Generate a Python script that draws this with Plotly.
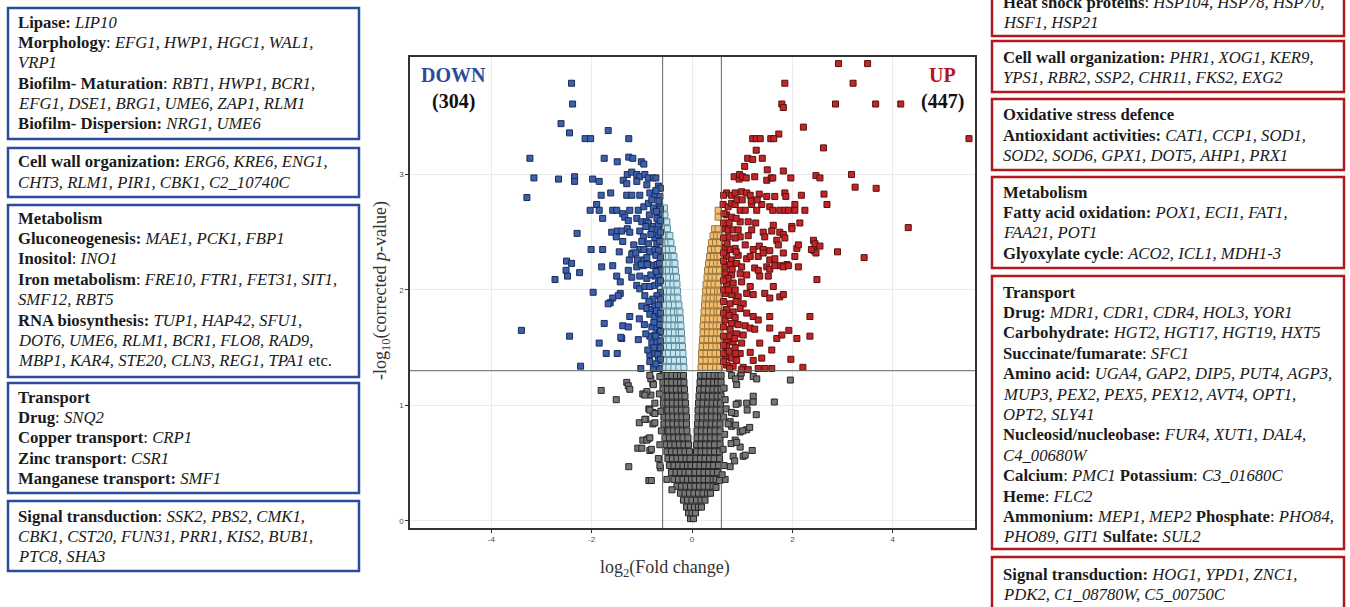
import plotly.graph_objects as go

# ---------------- data ----------------
fc_threshold = 0.585      # log2(1.5)
p_threshold = 1.301       # -log10(0.05)

x_ticks = [-4, -2, 0, 2, 4]
x_tick_labels = ["-4", "-2", "0", "2", "4"]
y_ticks = [0, 1, 2, 3]
y_tick_labels = ["0", "1", "2", "3"]

n_down = 304
n_up = 447

# non-significant genes (grey) - dense cone, listed row by row
grey_row_y = [0.02, 0.07, 0.12, 0.18, 0.24, 0.30, 0.36, 0.42, 0.48, 0.54, 0.60, 0.66, 0.72,
              0.78, 0.84, 0.90, 0.96, 1.02, 1.08, 1.14, 1.20, 1.26]
grey_row_x = [
    [-0.03, 0.03],
    [-0.07, 0.0, 0.07],
    [-0.11, -0.03, 0.05, 0.13, 0.19],
    [-0.17, -0.09, 0.0, 0.09, 0.18, 0.26],
    [-0.23, -0.14, -0.05, 0.04, 0.13, 0.22, 0.31, 0.37],
    [-0.30, -0.21, -0.12, -0.03, 0.06, 0.15, 0.24, 0.33, 0.42],
    [-0.36, -0.27, -0.18, -0.09, -0.01, 0.06, 0.15, 0.24, 0.33, 0.42, 0.48],
    [-0.41, -0.32, -0.23, -0.14, -0.06, 0.06, 0.15, 0.24, 0.33, 0.42, 0.51],
    [-0.45, -0.36, -0.27, -0.18, -0.09, -0.02, 0.07, 0.16, 0.25, 0.34, 0.43, 0.53],
    [-0.48, -0.39, -0.30, -0.21, -0.12, -0.04, 0.08, 0.17, 0.26, 0.35, 0.44, 0.55],
    [-0.50, -0.41, -0.32, -0.23, -0.14, -0.05, 0.09, 0.18, 0.27, 0.36, 0.45, 0.55],
    [-0.52, -0.43, -0.34, -0.25, -0.16, -0.07, 0.09, 0.18, 0.27, 0.36, 0.45, 0.56],
    [-0.54, -0.45, -0.36, -0.27, -0.18, -0.08, 0.10, 0.19, 0.28, 0.37, 0.46, 0.56],
    [-0.55, -0.46, -0.37, -0.28, -0.19, -0.10, 0.10, 0.19, 0.28, 0.37, 0.46, 0.56],
    [-0.56, -0.47, -0.38, -0.29, -0.20, -0.11, 0.11, 0.20, 0.29, 0.38, 0.47, 0.56],
    [-0.56, -0.47, -0.38, -0.29, -0.20, -0.11, 0.12, 0.21, 0.30, 0.39, 0.48, 0.57],
    [-0.57, -0.48, -0.39, -0.30, -0.21, -0.12, 0.12, 0.21, 0.30, 0.39, 0.48, 0.57],
    [-0.57, -0.48, -0.39, -0.30, -0.21, -0.13, 0.13, 0.22, 0.31, 0.40, 0.49, 0.57],
    [-0.57, -0.48, -0.39, -0.30, -0.21, -0.14, 0.14, 0.23, 0.32, 0.41, 0.50, 0.58],
    [-0.58, -0.49, -0.40, -0.31, -0.22, -0.15, 0.15, 0.24, 0.33, 0.42, 0.50, 0.58],
    [-0.58, -0.49, -0.40, -0.31, -0.23, -0.16, 0.16, 0.25, 0.34, 0.43, 0.51, 0.58],
    [-0.58, -0.49, -0.40, -0.31, -0.23, -0.17, 0.17, 0.26, 0.35, 0.44, 0.52, 0.58],
]
# non-significant genes scattered outside the cone
grey_scatter = [
    (-1.30, 1.20), (-1.27, 1.17), (-1.24, 1.14), (-1.81, 1.13), (-1.51, 1.05), (-1.05, 0.85),
    (-0.92, 0.88), (-0.78, 0.84), (-1.08, 0.63), (-0.84, 0.61), (-1.26, 0.47), (-0.86, 0.35),
    (-0.98, 0.70), (-0.88, 0.71), (-0.86, 0.97), (-0.78, 0.94), (-0.82, 1.09), (-0.98, 1.10),
    (-0.90, 1.12), (-0.78, 1.19), (-0.82, 1.23), (-0.63, 0.46), (-0.67, 0.54), (-0.61, 0.78),
    (-0.84, 1.26), (-0.77, 1.18), (-0.94, 1.09), (-0.74, 1.02), (-0.84, 0.96), (-0.74, 0.93),
    (-0.94, 0.88), (-0.74, 0.85), (-0.90, 0.70), (-0.84, 0.72), (-1.00, 0.63), (-0.81, 0.62),
    (-0.64, 0.48), (-0.81, 0.35), (-0.64, 1.25), (-0.65, 1.10), (-0.62, 0.95), (-0.64, 0.66),
    (-0.50, 0.36), (-0.40, 0.27),
    (0.79, 1.26), (0.89, 1.18), (0.96, 1.25), (1.09, 1.02), (0.92, 1.02), (0.86, 0.93),
    (0.76, 0.86), (0.96, 0.77), (1.09, 0.79), (0.79, 0.82), (0.86, 0.70), (0.96, 0.64),
    (0.82, 0.56), (1.02, 0.56), (0.76, 0.47), (0.66, 0.36), (0.98, 1.28), (0.87, 1.23),
    (1.22, 1.25), (1.29, 1.23), (1.96, 1.22), (1.64, 1.03), (1.22, 1.08), (1.22, 1.03),
    (0.88, 1.01), (1.10, 0.96), (1.28, 0.92), (0.68, 0.97), (0.79, 0.94), (0.87, 0.83),
    (1.01, 0.78), (1.15, 0.81), (0.72, 0.84), (0.78, 0.67), (0.89, 0.68), (1.20, 0.61),
    (1.06, 0.57), (0.85, 0.52), (0.64, 0.48), (0.62, 0.62), (0.48, 0.29), (0.64, 1.15),
    (0.66, 1.05), (0.63, 0.90), (0.65, 0.75), (0.60, 0.40), (0.55, 0.35),
]

# significant, |log2FC| below threshold, down (light blue)
lightblue_row_y = [1.33, 1.39, 1.45, 1.51, 1.57, 1.63, 1.69, 1.75, 1.81, 1.87, 1.93, 1.99, 2.05,
                   2.11, 2.17, 2.23, 2.29, 2.35, 2.41, 2.47, 2.53, 2.59, 2.65, 2.71]
lightblue_row_x = [
    [-0.56, -0.46, -0.36, -0.26, -0.16], [-0.55, -0.45, -0.35, -0.25, -0.17],
    [-0.56, -0.47, -0.37, -0.27, -0.18], [-0.55, -0.45, -0.35, -0.26, -0.19],
    [-0.56, -0.46, -0.36, -0.27, -0.20], [-0.55, -0.45, -0.35, -0.26, -0.21],
    [-0.56, -0.46, -0.36, -0.28, -0.22], [-0.55, -0.45, -0.36, -0.27, -0.23],
    [-0.56, -0.46, -0.37, -0.29, -0.24], [-0.55, -0.45, -0.35, -0.26],
    [-0.56, -0.46, -0.37, -0.28], [-0.55, -0.45, -0.36, -0.29],
    [-0.56, -0.47, -0.38, -0.30], [-0.55, -0.46, -0.37, -0.31],
    [-0.56, -0.47, -0.39, -0.33], [-0.55, -0.46, -0.38, -0.34],
    [-0.56, -0.47, -0.40, -0.36], [-0.55, -0.47, -0.39],
    [-0.56, -0.48, -0.42], [-0.55, -0.47, -0.44],
    [-0.56, -0.49], [-0.55, -0.50], [-0.54], [-0.55],
]

# significant, |log2FC| below threshold, up (orange)
orange_row_y = [1.33, 1.39, 1.45, 1.51, 1.57, 1.63, 1.69, 1.75, 1.81, 1.87, 1.93, 1.99, 2.05,
                2.11, 2.17, 2.23, 2.29, 2.35, 2.41, 2.47, 2.53, 2.63, 2.69]
orange_row_x = [
    [0.18, 0.27, 0.37, 0.47, 0.55], [0.19, 0.28, 0.38, 0.48, 0.56],
    [0.19, 0.28, 0.37, 0.46, 0.55], [0.20, 0.29, 0.39, 0.48, 0.56],
    [0.21, 0.30, 0.39, 0.47, 0.55], [0.22, 0.31, 0.40, 0.49, 0.56],
    [0.22, 0.31, 0.40, 0.48, 0.55], [0.23, 0.32, 0.41, 0.49, 0.56],
    [0.24, 0.33, 0.42, 0.50, 0.55], [0.25, 0.33, 0.41, 0.49, 0.56],
    [0.26, 0.34, 0.42, 0.50, 0.55], [0.27, 0.35, 0.43, 0.51, 0.56],
    [0.28, 0.36, 0.44, 0.52], [0.30, 0.38, 0.46, 0.54],
    [0.31, 0.39, 0.47, 0.55], [0.33, 0.41, 0.49, 0.56],
    [0.35, 0.43, 0.50, 0.56], [0.37, 0.45, 0.52],
    [0.39, 0.47, 0.55], [0.42, 0.49, 0.56],
    [0.45, 0.52], [0.52], [0.52],
]

# down-regulated genes (blue)
down_genes = [
    (-2.40, 3.79), (-2.38, 3.61), (-2.61, 3.44), (-2.44, 3.36), (-1.67, 3.38), (-2.13, 3.31),
    (-2.02, 3.31), (-1.26, 3.31), (-3.23, 3.14), (-3.15, 2.97), (-3.29, 2.80), (-1.75, 3.14),
    (-1.49, 3.11), (-1.26, 3.15), (-1.18, 3.14), (-1.01, 3.11), (-2.29, 2.49), (-2.73, 2.09),
    (-3.40, 1.65), (-2.44, 1.60), (-2.22, 1.34), (-2.66, 2.96), (-2.34, 2.98), (-2.34, 2.94),
    (-1.98, 2.96), (-1.85, 2.94), (-0.96, 3.09),
    (-1.37, 2.95), (-1.29, 3.00), (-1.20, 3.02), (-1.10, 3.00), (-1.04, 2.98), (-0.94, 3.00),
    (-0.87, 2.97), (-0.77, 2.97), (-0.72, 2.97), (-1.30, 2.92), (-1.10, 2.94), (-0.90, 2.91),
    (-0.67, 2.90), (-1.81, 2.82), (-1.62, 2.84), (-1.30, 2.82), (-1.20, 2.82), (-1.04, 2.82),
    (-0.84, 2.84), (-0.74, 2.82), (-0.64, 2.81), (-1.90, 2.74), (-2.03, 2.69), (-1.85, 2.69),
    (-1.58, 2.69), (-1.50, 2.69), (-1.38, 2.66), (-1.24, 2.69), (-1.07, 2.69), (-0.96, 2.72),
    (-0.87, 2.75), (-0.77, 2.71), (-0.65, 2.74), (-0.64, 2.66), (-1.78, 2.62), (-1.34, 2.63),
    (-1.27, 2.60), (-1.10, 2.62), (-1.00, 2.59), (-0.91, 2.59), (-0.87, 2.58), (-0.77, 2.55),
    (-0.70, 2.62), (-0.67, 2.56), (-1.60, 2.50), (-1.49, 2.51), (-1.40, 2.51), (-1.29, 2.53),
    (-1.24, 2.50), (-1.04, 2.51), (-0.97, 2.46), (-0.80, 2.52), (-0.74, 2.45), (-0.67, 2.48),
    (-1.51, 2.46), (-1.38, 2.42), (-1.16, 2.39), (-1.00, 2.42), (-0.87, 2.40), (-0.70, 2.40),
    (-0.64, 2.42), (-2.01, 2.35), (-1.78, 2.35), (-1.45, 2.33), (-1.18, 2.32), (-1.04, 2.35),
    (-0.96, 2.35), (-0.84, 2.33), (-0.74, 2.35), (-0.67, 2.34), (-2.50, 2.25), (-2.40, 2.23),
    (-2.51, 2.17), (-2.48, 2.12), (-2.24, 2.15), (-1.80, 2.20), (-1.58, 2.21), (-1.25, 2.26),
    (-1.09, 2.26), (-0.96, 2.26), (-1.10, 2.20), (-0.97, 2.21), (-0.87, 2.22), (-0.77, 2.21),
    (-0.70, 2.22), (-0.65, 2.23), (-1.27, 2.17), (-1.20, 2.11), (-1.04, 2.12), (-0.90, 2.10),
    (-0.74, 2.12), (-0.67, 2.13), (-1.50, 2.12), (-1.43, 2.07), (-1.10, 2.04), (-1.04, 2.01),
    (-0.94, 2.03), (-0.84, 2.03), (-0.74, 2.04), (-0.67, 2.06), (-1.97, 1.98), (-1.43, 1.97),
    (-1.47, 1.95), (-1.58, 1.93), (-1.63, 1.89), (-1.67, 1.88), (-1.00, 1.86), (-0.90, 1.84),
    (-0.80, 1.83), (-0.74, 1.86), (-0.67, 1.87), (-0.84, 1.79), (-0.74, 1.77), (-0.67, 1.80),
    (-0.64, 1.74), (-1.24, 1.77), (-1.05, 1.75), (-1.75, 1.71), (-1.38, 1.69), (-1.27, 1.68),
    (-0.80, 1.68), (-0.70, 1.67), (-0.65, 1.70), (-1.40, 1.58), (-1.07, 1.57), (-0.84, 1.60),
    (-0.74, 1.61), (-0.65, 1.63), (-0.80, 1.54), (-0.70, 1.55), (-1.85, 1.54), (-1.71, 1.45),
    (-1.49, 1.45), (-0.84, 1.44), (-0.74, 1.45), (-0.65, 1.47), (-0.84, 1.38), (-0.67, 1.39),
    (-1.02, 1.32), (-0.77, 1.32), (-0.65, 1.32), (-1.20, 2.31), (-1.12, 2.32), (-1.01, 2.22),
    (-0.89, 2.22), (-1.42, 1.59),
    (-0.63, 2.88), (-0.66, 2.77), (-0.63, 2.70), (-0.71, 2.68), (-0.63, 2.60), (-0.69, 2.52),
    (-0.63, 2.50), (-0.72, 2.30), (-0.63, 2.28), (-0.64, 2.17), (-0.72, 2.16), (-0.63, 2.08),
    (-0.63, 1.98), (-0.70, 1.95), (-0.78, 1.92), (-0.63, 1.92), (-0.71, 1.82), (-0.63, 1.80),
    (-0.76, 1.72), (-0.63, 1.64), (-0.72, 1.60), (-0.63, 1.56), (-0.76, 1.50), (-0.63, 1.50),
    (-0.68, 1.44), (-0.63, 1.40), (-0.72, 1.36), (-0.88, 1.48), (-0.92, 1.62), (-0.95, 1.70),
    (-0.86, 1.90), (-0.94, 1.95), (-0.82, 2.13), (-0.90, 2.28), (-0.82, 2.48), (-0.92, 2.55),
    (-0.85, 2.65), (-0.80, 2.78), (-0.72, 2.86),
]

# up-regulated genes (red)
up_genes = [
    (2.92, 3.96), (3.50, 3.96), (1.85, 3.79), (3.21, 3.79), (1.79, 3.61), (1.82, 3.58),
    (2.86, 3.61), (3.66, 3.61), (4.16, 3.61), (2.22, 3.41), (1.73, 3.35), (1.21, 3.31),
    (1.28, 3.31), (1.36, 3.31), (1.57, 3.31), (1.63, 3.31), (5.52, 3.31), (2.62, 3.23),
    (1.28, 3.21), (1.11, 3.14), (1.21, 3.13), (1.40, 3.14), (1.05, 3.07), (1.50, 3.04),
    (1.82, 3.03), (3.18, 3.00), (2.47, 2.99), (2.55, 2.97), (1.97, 2.97), (3.25, 2.89),
    (3.67, 2.88), (2.63, 2.83), (2.69, 2.74), (4.31, 2.54), (2.90, 2.33), (2.43, 2.34),
    (2.47, 2.32), (2.49, 2.09), (2.35, 1.77), (2.35, 1.60), (1.93, 1.65), (1.97, 1.40),
    (2.21, 1.33),
    (0.84, 2.98), (0.94, 2.96), (0.95, 3.00), (1.01, 2.98), (1.08, 2.97), (1.25, 2.98),
    (1.49, 2.95), (1.58, 2.97), (1.61, 2.97),
    (0.69, 2.84), (0.79, 2.82), (0.86, 2.84), (0.99, 2.85), (1.09, 2.84), (1.16, 2.82),
    (1.34, 2.83), (1.49, 2.81), (1.65, 2.81), (1.85, 2.84), (1.87, 2.81), (2.18, 2.82),
    (0.62, 2.74), (0.72, 2.72), (0.79, 2.75), (0.86, 2.74), (0.96, 2.69), (1.06, 2.69),
    (1.19, 2.74), (1.29, 2.69), (1.39, 2.74), (1.55, 2.72), (1.61, 2.69), (1.75, 2.69),
    (1.85, 2.69), (1.92, 2.69), (2.05, 2.74), (2.05, 2.69), (2.25, 2.69), (0.69, 2.65),
    (0.79, 2.63), (0.96, 2.59), (1.12, 2.59), (1.27, 2.58), (1.62, 2.56), (1.99, 2.55),
    (2.15, 2.58),
    (0.66, 2.53), (0.72, 2.52), (0.82, 2.52), (0.92, 2.52), (1.19, 2.52), (1.42, 2.50),
    (1.59, 2.51), (1.75, 2.50), (1.82, 2.48), (1.99, 2.53), (0.72, 2.46), (0.96, 2.46),
    (1.12, 2.47), (1.45, 2.46), (1.69, 2.43), (1.85, 2.45), (2.42, 2.43), (2.45, 2.40),
    (0.66, 2.37), (0.76, 2.35), (0.86, 2.36), (1.06, 2.39), (1.22, 2.35), (1.34, 2.38),
    (1.42, 2.35), (1.55, 2.34), (1.72, 2.39), (1.82, 2.32), (2.09, 2.36), (2.12, 2.39),
    (2.38, 2.35), (2.55, 2.38), (3.43, 2.28), (0.69, 2.29), (0.79, 2.26), (0.92, 2.30),
    (1.09, 2.27), (1.16, 2.29), (1.32, 2.29), (1.42, 2.32), (1.55, 2.26), (1.65, 2.27),
    (1.75, 2.21), (1.89, 2.22), (2.05, 2.29),
    (0.66, 2.20), (0.76, 2.22), (0.89, 2.23), (0.99, 2.20), (1.25, 2.19), (1.32, 2.17),
    (1.49, 2.20), (1.55, 2.18), (1.65, 2.21), (1.82, 2.20), (1.92, 2.21), (2.12, 2.20),
    (0.66, 2.14), (0.79, 2.13), (0.96, 2.14), (1.09, 2.13), (1.35, 2.12), (1.52, 2.12),
    (0.69, 2.04), (0.82, 2.06), (0.99, 2.07), (1.16, 2.03), (0.66, 1.97), (0.79, 1.96),
    (0.92, 1.94), (1.09, 1.97), (1.22, 1.96), (1.45, 1.97), (1.55, 1.93), (1.75, 1.94),
    (1.82, 1.96), (1.62, 2.03), (1.02, 1.88), (0.76, 1.88),
    (0.69, 1.83), (0.82, 1.81), (0.96, 1.84), (1.09, 1.80), (1.22, 1.77), (1.32, 1.74),
    (1.55, 1.77), (0.66, 1.74), (0.79, 1.71), (0.92, 1.70), (1.06, 1.69), (1.16, 1.67),
    (0.76, 1.66), (0.89, 1.62), (1.02, 1.61), (1.25, 1.66), (1.55, 1.67), (1.69, 1.58),
    (1.79, 1.61), (2.09, 1.58), (0.69, 1.57), (0.82, 1.55), (0.99, 1.54), (1.35, 1.54),
    (0.69, 1.51), (0.86, 1.50), (0.96, 1.45), (1.16, 1.46), (1.59, 1.48), (0.66, 1.42),
    (0.79, 1.41), (0.89, 1.39), (1.22, 1.39), (1.39, 1.41), (0.69, 1.35), (0.82, 1.34),
    (1.02, 1.33), (1.32, 1.32), (1.45, 1.32), (1.59, 1.32), (0.99, 1.31), (1.12, 1.31),
    (0.63, 2.82), (0.64, 2.66), (0.63, 2.58), (0.63, 2.45), (0.70, 2.40), (0.63, 2.32),
    (0.63, 2.25), (0.72, 2.10), (0.63, 2.08), (0.63, 2.00), (0.73, 2.00), (0.63, 1.90),
    (0.63, 1.80), (0.74, 1.78), (0.63, 1.68), (0.63, 1.60), (0.75, 1.60), (0.63, 1.52),
    (0.63, 1.45), (0.74, 1.47), (0.63, 1.38), (0.75, 1.32), (0.87, 1.45), (0.85, 1.58),
    (0.86, 1.76), (0.88, 1.90), (0.86, 2.00), (0.80, 2.18), (0.88, 2.33), (0.86, 2.45),
    (0.88, 2.62), (0.74, 2.58), (0.90, 2.78), (1.00, 2.78), (1.18, 2.77), (1.30, 2.78),
]

# text of the annotation boxes
left_boxes = [
    ["<b>Lipase:</b> <i>LIP10</i>",
     "<b>Morphology</b>: <i>EFG1, HWP1, HGC1, WAL1,</i>",
     "<i>VRP1</i>",
     "<b>Biofilm- Maturation</b>: <i>RBT1, HWP1, BCR1,</i>",
     "<i>EFG1, DSE1, BRG1, UME6, ZAP1, RLM1</i>",
     "<b>Biofilm- Dispersion:</b> <i>NRG1, UME6</i>"],
    ["<b>Cell wall organization:</b> <i>ERG6, KRE6, ENG1,</i>",
     "<i>CHT3, RLM1, PIR1, CBK1, C2_10740C</i>"],
    ["<b>Metabolism</b>",
     "<b>Gluconeogenesis:</b> <i>MAE1, PCK1, FBP1</i>",
     "<b>Inositol</b>: <i>INO1</i>",
     "<b>Iron metabolism</b>: <i>FRE10, FTR1, FET31, SIT1,</i>",
     "<i>SMF12, RBT5</i>",
     "<b>RNA biosynthesis:</b> <i>TUP1, HAP42, SFU1,</i>",
     "<i>DOT6, UME6, RLM1, BCR1, FLO8, RAD9,</i>",
     "<i>MBP1, KAR4, STE20, CLN3, REG1, TPA1</i> etc."],
    ["<b>Transport</b>",
     "<b>Drug</b>: <i>SNQ2</i>",
     "<b>Copper transport</b>: <i>CRP1</i>",
     "<b>Zinc transport</b>: <i>CSR1</i>",
     "<b>Manganese transport:</b> <i>SMF1</i>"],
    ["<b>Signal transduction</b>: <i>SSK2, PBS2, CMK1,</i>",
     "<i>CBK1, CST20, FUN31, PRR1, KIS2, BUB1,</i>",
     "<i>PTC8, SHA3</i>"],
]
right_boxes = [
    ["<b>Heat shock proteins</b>: <i>HSP104, HSP78, HSP70,</i>",
     "<i>HSF1, HSP21</i>"],
    ["<b>Cell wall organization:</b> <i>PHR1, XOG1, KER9,</i>",
     "<i>YPS1, RBR2, SSP2, CHR11, FKS2, EXG2</i>"],
    ["<b>Oxidative stress defence</b>",
     "<b>Antioxidant activities:</b> <i>CAT1, CCP1, SOD1,</i>",
     "<i>SOD2, SOD6, GPX1, DOT5, AHP1, PRX1</i>"],
    ["<b>Metabolism</b>",
     "<b>Fatty acid oxidation:</b> <i>POX1, ECI1, FAT1,</i>",
     "<i>FAA21, POT1</i>",
     "<b>Glyoxylate cycle</b>: <i>ACO2, ICL1, MDH1-3</i>"],
    ["<b>Transport</b>",
     "<b>Drug:</b> <i>MDR1, CDR1, CDR4, HOL3, YOR1</i>",
     "<b>Carbohydrate:</b> <i>HGT2, HGT17, HGT19, HXT5</i>",
     "<b>Succinate/fumarate</b>: <i>SFC1</i>",
     "<b>Amino acid:</b> <i>UGA4, GAP2, DIP5, PUT4, AGP3,</i>",
     "<i>MUP3, PEX2, PEX5, PEX12, AVT4, OPT1,</i>",
     "<i>OPT2, SLY41</i>",
     "<b>Nucleosid/nucleobase:</b> <i>FUR4, XUT1, DAL4,</i>",
     "<i>C4_00680W</i>",
     "<b>Calcium</b>: <i>PMC1</i> <b>Potassium</b>: <i>C3_01680C</i>",
     "<b>Heme</b>: <i>FLC2</i>",
     "<b>Ammonium:</b> <i>MEP1, MEP2</i> <b>Phosphate</b>: <i>PHO84,</i>",
     "<i>PHO89, GIT1</i> <b>Sulfate:</b> <i>SUL2</i>"],
    ["<b>Signal transduction:</b> <i>HOG1, YPD1, ZNC1,</i>",
     "<i>PDK2, C1_08780W, C5_00750C</i>"],
]

# ---------------- layout helpers (pixel -> paper) ----------------
W, H = 1350, 607
L, R, T, B = 410, 975, 57, 528


def px(x):
    return (x - L) / (R - L)


def py(y):
    return (B - y) / (B - T)


def flatten(row_y, row_x):
    xs, ys = [], []
    for yv, xrow in zip(row_y, row_x):
        for xv in xrow:
            xs.append(xv)
            ys.append(yv)
    return xs, ys


grey_x, grey_y = flatten(grey_row_y, grey_row_x)
grey_x += [p[0] for p in grey_scatter]
grey_y += [p[1] for p in grey_scatter]
lb_x, lb_y = flatten(lightblue_row_y, lightblue_row_x)
or_x, or_y = flatten(orange_row_y, orange_row_x)
down_x = [p[0] for p in down_genes]
down_y = [p[1] for p in down_genes]
up_x = [p[0] for p in up_genes]
up_y = [p[1] for p in up_genes]

fig = go.Figure()


def add_points(xs, ys, fill, edge):
    fig.add_trace(go.Scatter(
        x=xs, y=ys, mode="markers", hoverinfo="skip",
        marker=dict(symbol="square", size=6, color=fill, line=dict(color=edge, width=1)),
    ))


add_points(grey_x, grey_y, "#777777", "#262626")
add_points(lb_x, lb_y, "#c3e6f2", "#5e8a98")
add_points(or_x, or_y, "#f6bd6f", "#98773a")
add_points(down_x, down_y, "#3b60ac", "#1b2a58")
add_points(up_x, up_y, "#c32626", "#561010")

axis_common = dict(
    showgrid=True, gridcolor="#ebebeb", gridwidth=1, zeroline=False,
    showline=True, linecolor="#333333", linewidth=1.5, mirror=True,
    ticks="outside", ticklen=3, tickcolor="#333333", tickwidth=1,
    tickfont=dict(family="Liberation Sans", size=8, color="#4d4d4d"),
)
fig.update_xaxes(range=[-5.62, 5.64], tickvals=x_ticks, ticktext=x_tick_labels, **axis_common)
fig.update_yaxes(range=[-0.061, 4.017], tickvals=y_ticks, ticktext=y_tick_labels, **axis_common)

fig.update_layout(
    width=W, height=H, margin=dict(l=L, r=W - R, t=T, b=H - B),
    plot_bgcolor="white", paper_bgcolor="white", showlegend=False,
)

line_col = "#5d6a5d"
fig.add_vline(x=-fc_threshold, line=dict(color=line_col, width=1), layer="above")
fig.add_vline(x=fc_threshold, line=dict(color=line_col, width=1), layer="above")
fig.add_hline(y=p_threshold, line=dict(color=line_col, width=1), layer="above")

serif = "Liberation Serif"


def text_at(x, y, text, size, color, xanchor="center", angle=0):
    fig.add_annotation(xref="paper", yref="paper", x=px(x), y=py(y), xanchor=xanchor,
                       yanchor="middle", text=text, showarrow=False, textangle=angle,
                       font=dict(family=serif, size=size, color=color))


# axis titles
text_at(665, 568, "log<sub>2</sub>(Fold change)", 18, "#333333")
text_at(381, 291, "-log<sub>10</sub>(corrected <i>p</i>-value)", 18, "#333333", angle=-90)

# DOWN / UP labels
text_at(453, 75, "<b>DOWN</b>", 20, "#2c4b9b")
text_at(453, 101, f"<b>({n_down})</b>", 20, "#111111")
text_at(942, 75, "<b>UP</b>", 20, "#b0181e")
text_at(942, 101, f"<b>({n_up})</b>", 20, "#111111")

# boxes
left_geom = [(8, 139, 22), (148, 197, 162), (205, 377, 218), (383, 493, 397), (501, 571, 516)]
right_geom = [(-30, 36, 2), (41, 92, 57), (99, 170, 115), (177, 268, 192), (276, 549, 292), (557, 640, 574)]
line_step = 20.4


def add_boxes(boxes, geom, x0, x1, text_x, color):
    for lines, (y0, y1, first) in zip(boxes, geom):
        fig.add_shape(type="rect", xref="paper", yref="paper", x0=px(x0), x1=px(x1),
                      y0=py(y1), y1=py(y0), line=dict(color=color, width=2.5),
                      fillcolor="rgba(0,0,0,0)", layer="above")
        for i, t in enumerate(lines):
            text_at(text_x, first + i * line_step, t, 16.7, "#1a1a1a", xanchor="left")


add_boxes(left_boxes, left_geom, 8, 359, 16, "#2b4c9c")
add_boxes(right_boxes, right_geom, 992, 1344, 1001, "#b1191f")

fig.write_html("out.html")
